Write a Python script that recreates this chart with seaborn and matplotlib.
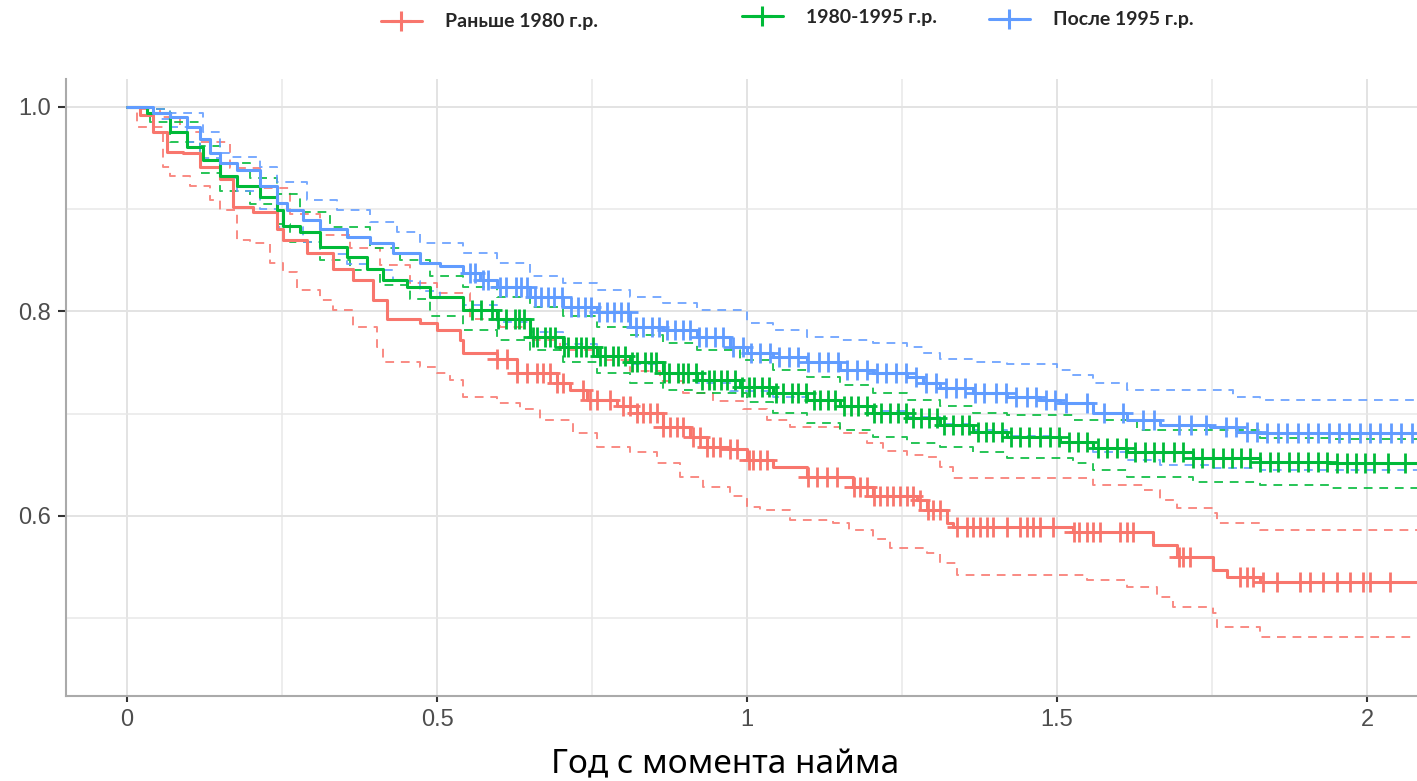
import numpy as np
import matplotlib
matplotlib.use("Agg")
import matplotlib.pyplot as plt
import seaborn as sns
from matplotlib.lines import Line2D
from matplotlib.ticker import FixedLocator

# ---------------- data ----------------
GROUPS = ["Раньше 1980 г.р.", "1980-1995 г.р.", "После 1995 г.р."]
COLORS = ["#F8766D", "#00BA38", "#619CFF"]
XLABEL = "Год с момента найма"
X_TICKS = [0, 0.5, 1, 1.5, 2]
X_TICK_LABELS = ["0", "0.5", "1", "1.5", "2"]
Y_TICKS = [0.6, 0.8, 1.0]
Y_TICK_LABELS = ["0.6", "0.8", "1.0"]
T_END = 2.1

# Group 1: before 1980
RED_T = [0, 0.021, 0.042, 0.065, 0.090, 0.118, 0.150, 0.171, 0.203, 0.242, 0.252, 0.290, 0.332,
         0.365, 0.397, 0.419, 0.473, 0.500, 0.537, 0.542, 0.597, 0.629, 0.694, 0.715, 0.742,
         0.790, 0.823, 0.865, 0.908, 0.935, 0.973, 1.000, 1.042, 1.097, 1.171, 1.203, 1.274,
         1.290, 1.323, 1.332, 1.526, 1.655, 1.694, 1.752, 1.774, 1.827]
RED_S = [1.0, 0.992, 0.975, 0.956, 0.955, 0.941, 0.929, 0.902, 0.897, 0.880, 0.870, 0.857, 0.841,
         0.831, 0.811, 0.792, 0.789, 0.782, 0.772, 0.759, 0.753, 0.740, 0.730, 0.723, 0.713,
         0.707, 0.701, 0.687, 0.677, 0.667, 0.665, 0.655, 0.648, 0.638, 0.628, 0.619, 0.616,
         0.606, 0.593, 0.589, 0.584, 0.572, 0.560, 0.547, 0.540, 0.535]
RED_LO_T = [0, 0.016, 0.058, 0.069, 0.102, 0.134, 0.150, 0.177, 0.198, 0.231, 0.252, 0.274, 0.311,
            0.332, 0.365, 0.403, 0.413, 0.473, 0.500, 0.521, 0.542, 0.597, 0.634, 0.666, 0.719,
            0.758, 0.811, 0.855, 0.892, 0.929, 0.973, 1.000, 1.021, 1.069, 1.139, 1.165, 1.203,
            1.231, 1.290, 1.311, 1.339, 1.548, 1.613, 1.661, 1.687, 1.752, 1.758, 1.827]
RED_LO = [1.0, 0.980, 0.941, 0.932, 0.922, 0.909, 0.899, 0.870, 0.867, 0.847, 0.838, 0.821, 0.811,
          0.801, 0.785, 0.765, 0.750, 0.746, 0.740, 0.733, 0.716, 0.710, 0.704, 0.694, 0.681,
          0.667, 0.662, 0.652, 0.638, 0.628, 0.619, 0.609, 0.606, 0.596, 0.593, 0.586, 0.577,
          0.569, 0.564, 0.554, 0.542, 0.537, 0.531, 0.521, 0.511, 0.505, 0.491, 0.482]
RED_HI_T = [0, 0.021, 0.053, 0.085, 0.118, 0.166, 0.215, 0.263, 0.311, 0.360, 0.408, 0.456, 0.500,
            0.553, 0.602, 0.650, 0.698, 0.763, 0.811, 0.860, 0.897, 0.945, 0.994, 1.032, 1.069,
            1.150, 1.194, 1.219, 1.258, 1.290, 1.311, 1.332, 1.558, 1.639, 1.666, 1.694, 1.752,
            1.758, 1.827]
RED_HI = [1.0, 0.998, 0.990, 0.975, 0.965, 0.940, 0.920, 0.895, 0.875, 0.862, 0.845, 0.828, 0.818,
          0.792, 0.785, 0.772, 0.762, 0.752, 0.742, 0.732, 0.720, 0.712, 0.704, 0.694, 0.687,
          0.681, 0.671, 0.663, 0.660, 0.658, 0.648, 0.637, 0.630, 0.625, 0.616, 0.608, 0.603,
          0.593, 0.586]
RED_CENS = [0.597, 0.613, 0.629, 0.645, 0.661, 0.671, 0.682, 0.694, 0.703, 0.735, 0.747, 0.758,
            0.779, 0.800, 0.811, 0.823, 0.832, 0.844, 0.855, 0.865, 0.876, 0.887, 0.897, 0.913,
            0.924, 0.935, 0.945, 0.956, 0.973, 0.984, 1.003, 1.010, 1.021, 1.032, 1.099, 1.113,
            1.129, 1.145, 1.173, 1.182, 1.194, 1.205, 1.215, 1.226, 1.235, 1.247, 1.258, 1.268,
            1.279, 1.292, 1.300, 1.311, 1.339, 1.355, 1.365, 1.376, 1.387, 1.397, 1.419, 1.440,
            1.452, 1.461, 1.473, 1.494, 1.528, 1.535, 1.548, 1.558, 1.569, 1.602, 1.613, 1.623,
            1.696, 1.703, 1.715, 1.795, 1.806, 1.816, 1.832, 1.855, 1.892, 1.908, 1.929, 1.952,
            1.973, 1.994, 2.005, 2.037]

# Group 2: 1980-1995
GREEN_T = [0, 0.032, 0.069, 0.097, 0.123, 0.150, 0.177, 0.215, 0.242, 0.252, 0.279, 0.311, 0.355,
           0.387, 0.413, 0.452, 0.489, 0.542, 0.597, 0.650, 0.703, 0.758, 0.811, 0.865, 0.919,
           0.989, 1.042, 1.097, 1.150, 1.203, 1.258, 1.311, 1.365, 1.419, 1.505, 1.558, 1.613,
           1.719, 1.827, 1.940]
GREEN_S = [1.0, 0.994, 0.975, 0.961, 0.948, 0.932, 0.922, 0.912, 0.899, 0.883, 0.877, 0.863, 0.853,
           0.841, 0.831, 0.824, 0.814, 0.801, 0.792, 0.775, 0.765, 0.756, 0.750, 0.740, 0.733,
           0.726, 0.720, 0.713, 0.707, 0.701, 0.696, 0.689, 0.682, 0.677, 0.672, 0.666, 0.662,
           0.657, 0.653, 0.652]
GREEN_HI_T = [0, 0.037, 0.069, 0.118, 0.150, 0.198, 0.242, 0.279, 0.327, 0.392, 0.440, 0.489, 0.542,
              0.597, 0.650, 0.703, 0.758, 0.811, 0.865, 0.919, 0.989, 1.042, 1.097, 1.150, 1.203,
              1.258, 1.311, 1.365, 1.419, 1.526, 1.629, 1.827, 1.940]
GREEN_HI = [1.0, 0.998, 0.985, 0.962, 0.945, 0.930, 0.915, 0.897, 0.882, 0.862, 0.850, 0.834, 0.824,
            0.814, 0.804, 0.795, 0.785, 0.777, 0.769, 0.762, 0.752, 0.743, 0.736, 0.728, 0.720,
            0.713, 0.707, 0.701, 0.699, 0.694, 0.684, 0.676, 0.675]
GREEN_LO_T = [0, 0.037, 0.069, 0.118, 0.150, 0.198, 0.242, 0.263, 0.311, 0.360, 0.408, 0.456, 0.489,
              0.542, 0.597, 0.650, 0.703, 0.758, 0.811, 0.865, 0.919, 1.000, 1.042, 1.097, 1.150,
              1.203, 1.258, 1.311, 1.365, 1.419, 1.526, 1.558, 1.613, 1.719, 1.827, 1.940]
GREEN_LO = [1.0, 0.985, 0.965, 0.935, 0.918, 0.905, 0.885, 0.868, 0.850, 0.840, 0.826, 0.812, 0.795,
            0.782, 0.772, 0.762, 0.750, 0.740, 0.730, 0.723, 0.720, 0.711, 0.701, 0.691, 0.684,
            0.677, 0.671, 0.667, 0.662, 0.657, 0.652, 0.645, 0.638, 0.633, 0.630, 0.627]
GREEN_CENS = [0.556, 0.571, 0.589, 0.598, 0.612, 0.625, 0.633, 0.641, 0.655, 0.662, 0.674, 0.683,
              0.691, 0.705, 0.712, 0.724, 0.733, 0.741, 0.752, 0.763, 0.771, 0.784, 0.792, 0.803,
              0.814, 0.822, 0.836, 0.845, 0.853, 0.866, 0.874, 0.889, 0.897, 0.905, 0.918, 0.927,
              0.939, 0.946, 0.958, 0.967, 0.981, 0.992, 1.003, 1.012, 1.024, 1.036, 1.047, 1.058,
              1.072, 1.083, 1.095, 1.108, 1.117, 1.131, 1.142, 1.156, 1.168, 1.179, 1.193, 1.205,
              1.216, 1.231, 1.244, 1.256, 1.268, 1.281, 1.293, 1.307, 1.318, 1.333, 1.346, 1.358,
              1.372, 1.385, 1.397, 1.411, 1.426, 1.441, 1.455, 1.472, 1.488, 1.503, 1.519, 1.534,
              1.548, 1.566, 1.581, 1.597, 1.611, 1.626, 1.642, 1.657, 1.671, 1.688, 1.703, 1.719,
              1.734, 1.752, 1.768, 1.783, 1.797, 1.812, 1.828, 1.843, 1.857, 1.874, 1.889, 1.904,
              1.921, 1.936, 1.951, 1.967, 1.983, 1.996, 2.012, 2.034, 2.061]

# Group 3: after 1995
BLUE_T = [0, 0.042, 0.069, 0.097, 0.118, 0.134, 0.150, 0.177, 0.215, 0.242, 0.258, 0.284, 0.311,
          0.355, 0.392, 0.429, 0.473, 0.505, 0.542, 0.569, 0.597, 0.650, 0.703, 0.758, 0.811,
          0.865, 0.919, 0.973, 1.000, 1.042, 1.097, 1.150, 1.203, 1.258, 1.284, 1.311, 1.365,
          1.419, 1.473, 1.505, 1.558, 1.613, 1.666, 1.747, 1.790, 1.827]
BLUE_S = [1.0, 0.994, 0.990, 0.980, 0.968, 0.955, 0.945, 0.938, 0.922, 0.906, 0.899, 0.889, 0.880,
          0.873, 0.867, 0.857, 0.847, 0.844, 0.837, 0.831, 0.824, 0.814, 0.804, 0.799, 0.785,
          0.782, 0.775, 0.765, 0.759, 0.755, 0.750, 0.743, 0.740, 0.736, 0.730, 0.725, 0.720,
          0.716, 0.713, 0.710, 0.701, 0.694, 0.689, 0.687, 0.682, 0.681]
BLUE_HI_T = [0, 0.037, 0.069, 0.123, 0.150, 0.166, 0.215, 0.242, 0.290, 0.339, 0.392, 0.435, 0.473,
             0.542, 0.597, 0.650, 0.703, 0.758, 0.811, 0.865, 0.919, 1.000, 1.042, 1.097, 1.150,
             1.203, 1.258, 1.284, 1.311, 1.365, 1.419, 1.500, 1.526, 1.558, 1.613, 1.784, 1.827]
BLUE_HI = [1.0, 0.998, 0.994, 0.975, 0.955, 0.951, 0.941, 0.926, 0.909, 0.899, 0.887, 0.877, 0.867,
           0.857, 0.847, 0.834, 0.828, 0.821, 0.814, 0.808, 0.801, 0.789, 0.782, 0.775, 0.772,
           0.769, 0.765, 0.759, 0.753, 0.750, 0.748, 0.743, 0.738, 0.730, 0.723, 0.716, 0.713]
BLUE_LO_T = [0, 0.042, 0.069, 0.097, 0.118, 0.150, 0.177, 0.215, 0.242, 0.284, 0.311, 0.355, 0.392,
             0.429, 0.473, 0.505, 0.542, 0.597, 0.650, 0.703, 0.758, 0.811, 0.865, 0.919, 0.973,
             1.042, 1.097, 1.150, 1.203, 1.258, 1.311, 1.365, 1.419, 1.505, 1.558, 1.613, 1.666,
             1.747, 1.827]
BLUE_LO = [1.0, 0.988, 0.980, 0.965, 0.950, 0.930, 0.918, 0.900, 0.882, 0.868, 0.856, 0.846, 0.840,
           0.830, 0.820, 0.814, 0.806, 0.790, 0.780, 0.768, 0.755, 0.748, 0.740, 0.730, 0.722,
           0.716, 0.712, 0.706, 0.703, 0.697, 0.690, 0.684, 0.678, 0.672, 0.662, 0.655, 0.650,
           0.647, 0.645]
BLUE_CENS = [0.553, 0.562, 0.574, 0.583, 0.601, 0.612, 0.627, 0.636, 0.645, 0.658, 0.667, 0.679,
             0.688, 0.702, 0.716, 0.728, 0.739, 0.748, 0.761, 0.774, 0.785, 0.797, 0.808, 0.821,
             0.833, 0.846, 0.858, 0.871, 0.884, 0.896, 0.908, 0.923, 0.934, 0.949, 0.962, 0.978,
             0.994, 1.006, 1.021, 1.037, 1.052, 1.068, 1.083, 1.098, 1.116, 1.131, 1.147, 1.162,
             1.178, 1.193, 1.209, 1.224, 1.241, 1.257, 1.272, 1.288, 1.304, 1.321, 1.337, 1.352,
             1.368, 1.383, 1.401, 1.418, 1.434, 1.451, 1.466, 1.482, 1.497, 1.515, 1.548, 1.575,
             1.607, 1.639, 1.656, 1.697, 1.716, 1.741, 1.772, 1.789, 1.806, 1.822, 1.839, 1.856,
             1.871, 1.888, 1.905, 1.921, 1.938, 1.954, 1.971, 1.988, 2.004, 2.021, 2.038, 2.055,
             2.072]

SERIES = [
    (RED_T, RED_S, RED_LO_T, RED_LO, RED_HI_T, RED_HI, RED_CENS),
    (GREEN_T, GREEN_S, GREEN_LO_T, GREEN_LO, GREEN_HI_T, GREEN_HI, GREEN_CENS),
    (BLUE_T, BLUE_S, BLUE_LO_T, BLUE_LO, BLUE_HI_T, BLUE_HI, BLUE_CENS),
]

# ---------------- style ----------------
sns.set_theme(style="white")
plt.rcParams["font.family"] = ["Liberation Sans", "DejaVu Sans"]

W, H = 1417, 781
fig = plt.figure(figsize=(W / 100, H / 100), dpi=100)
ax = fig.add_axes([66 / W, 1 - 696 / H, 1 - 66 / W, (696 - 79) / H])


def extend(t, s):
    return np.append(np.asarray(t, float), T_END), np.append(np.asarray(s, float), s[-1])


for (t, s, lt, lo, ht, hi, cens), color in zip(SERIES, COLORS):
    for xt, ys in ((lt, lo), (ht, hi)):
        xx, yy = extend(xt, ys)
        sns.lineplot(x=xx, y=yy, ax=ax, color=color, drawstyle="steps-post",
                     linestyle=(0, (4.5, 3.5)), linewidth=1.4, alpha=0.85,
                     estimator=None, sort=False, zorder=2)
    xx, yy = extend(t, s)
    sns.lineplot(x=xx, y=yy, ax=ax, color=color, drawstyle="steps-post",
                 linewidth=2.2, estimator=None, sort=False, zorder=3)
    c = np.asarray(cens, float)
    idx = np.searchsorted(xx, c, side="right") - 1
    sns.scatterplot(x=c, y=yy[idx], ax=ax, color=color, marker="+", s=210,
                    linewidth=2.0, zorder=4, legend=False)

ax.set_xlim(-0.0984, 2.0806)
ax.set_ylim(0.424, 1.027)
ax.set_xticks(X_TICKS)
ax.set_xticklabels(X_TICK_LABELS)
ax.set_yticks(Y_TICKS)
ax.set_yticklabels(Y_TICK_LABELS)
ax.xaxis.set_minor_locator(FixedLocator([0.25, 0.75, 1.25, 1.75]))
ax.yaxis.set_minor_locator(FixedLocator([0.5, 0.7, 0.9]))
ax.grid(which="major", color="#E3E3E3", linewidth=1.4)
ax.grid(which="minor", color="#E8E8E8", linewidth=1.1)
ax.set_axisbelow(True)
ax.set_xlabel("")
ax.set_ylabel("")

ax.tick_params(axis="x", which="major", length=4.5, width=1.5, color="#333333",
               labelcolor="#4D4D4D", labelsize=17, pad=5, bottom=True)
ax.tick_params(axis="y", which="major", length=6, width=1.5, color="#333333",
               labelcolor="#4D4D4D", labelsize=17, pad=5, left=True)
ax.tick_params(which="minor", length=0)

for side in ("top", "right"):
    ax.spines[side].set_visible(False)
for side in ("left", "bottom"):
    ax.spines[side].set_color("#AAAAAA")
    ax.spines[side].set_linewidth(1.5)

fig.text(725 / W, 1 - 765 / H, XLABEL, ha="center", va="center", fontsize=24,
         family=["Noto Sans", "DejaVu Sans"], color="black")

# legend entries (three separately placed keys, as in the reference)
LEG_POS = [(381 / W, 1 - 22 / H), (742 / W, 1 - 17 / H), (989 / W, 1 - 20 / H)]
for name, color, pos in zip(GROUPS, COLORS, LEG_POS):
    h = Line2D([], [], color=color, linewidth=2.2, marker="+", markersize=15,
               markeredgewidth=2.2)
    fig.legend(handles=[h], labels=[name], loc="center left", bbox_to_anchor=pos,
               frameon=False, borderpad=0, borderaxespad=0, handlelength=2.1,
               handletextpad=1.2, prop={"family": ["Lato", "DejaVu Sans"],
                                        "weight": "bold", "size": 14})

fig.savefig("out.png", dpi=100)
